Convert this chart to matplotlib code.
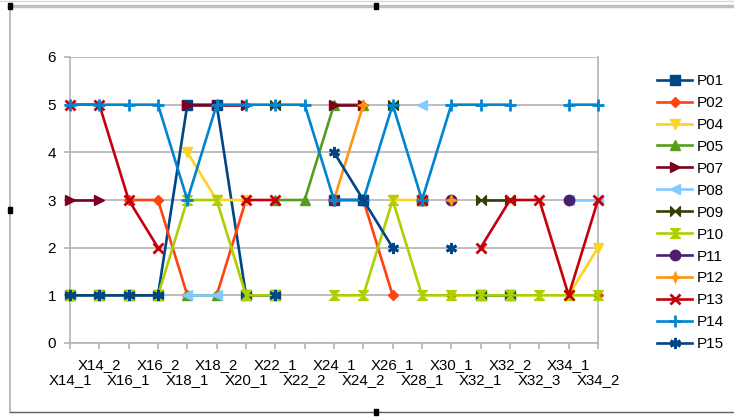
import numpy as np
import matplotlib
matplotlib.use("Agg")
import matplotlib.pyplot as plt
from matplotlib.path import Path
from matplotlib.lines import Line2D
from matplotlib.patches import Rectangle
import matplotlib.transforms as mtransforms

plt.rcParams['font.family'] = ['Liberation Sans', 'DejaVu Sans']

n = np.nan
categories = ["X14_1", "X14_2", "X16_1", "X16_2", "X18_1", "X18_2", "X20_1",
              "X22_1", "X22_2", "X24_1", "X24_2", "X26_1", "X28_1", "X30_1",
              "X32_1", "X32_2", "X32_3", "X34_1", "X34_2"]

P01 = [1, 1, 1, 1, 5, 5, 1, 1, n, 3, 3, n, 3, n, 1, 1, n, n, n]
P02 = [n, n, 3, 3, 1, 1, 3, n, n, n, 3, 1, n, 1, n, n, n, n, 1]
P04 = [n, n, n, n, 4, 3, 3, n, n, n, n, 3, 3, n, n, n, n, 1, 2]
P05 = [n, n, n, n, 1, 1, n, 3, 3, 5, 5, n, 3, n, n, n, n, n, n]
P07 = [3, 3, n, n, 5, 5, 5, n, n, 5, 5, n, n, n, n, n, n, n, n]
P08 = [n, n, n, n, 1, 1, n, n, n, n, n, n, 5, n, n, n, n, 3, 3]
P09 = [n, n, n, n, n, n, n, 5, n, n, n, 5, n, n, 3, 3, n, n, n]
P10 = [1, 1, 1, 1, 3, 3, 1, 1, n, 1, 1, 3, 1, 1, 1, 1, 1, 1, 1]
P11 = [n, n, n, n, n, n, n, n, n, 3, n, n, n, 3, n, n, n, 3, n]
P12 = [n, n, n, n, n, n, n, n, n, 3, 5, n, n, 3, n, n, n, n, n]
P13 = [5, 5, 3, 2, n, n, 3, 3, n, n, n, n, 3, n, 2, 3, 3, 1, 3]
P14 = [5, 5, 5, 5, 3, 5, 5, 5, 5, 3, 3, 5, 3, 5, 5, 5, n, 5, 5]
P15 = [1, 1, 1, 1, n, n, n, 1, n, 4, 3, 2, n, 2, n, n, n, n, n]

series_names = ["P01", "P02", "P04", "P05", "P07", "P08", "P09", "P10",
                "P11", "P12", "P13", "P14", "P15"]
series_values = [P01, P02, P04, P05, P07, P08, P09, P10, P11, P12, P13, P14, P15]
colors = ["#004586", "#ff420e", "#ffd320", "#579d1c", "#7e0021", "#83caff",
          "#314004", "#aecf00", "#4b1f6f", "#ff950e", "#c5000b", "#0084d1",
          "#004586"]

bowtie = Path([(-1, -1), (-1, 1), (0, 0), (1, 1), (1, -1), (0, 0), (-1, -1)],
              closed=True)
hourglass = Path([(-1, 1), (1, 1), (0, 0), (1, -1), (-1, -1), (0, 0), (-1, 1)],
                 closed=True)
star4 = Path([(0, 1), (0.25, 0.25), (1, 0), (0.25, -0.25), (0, -1),
              (-0.25, -0.25), (-1, 0), (-0.25, 0.25), (0, 1)], closed=True)
markers = ['s', 'D', 'v', '^', '>', '<', bowtie, hourglass, 'o', star4, 'x', '+',
           (6, 2, 0)]
msizes = [7, 5.5, 7.5, 7.5, 7.5, 7.5, 7, 7, 7.5, 8, 7.5, 9, 8]

W, H = 734, 418
fig = plt.figure(figsize=(W / 100, H / 100), dpi=100)
ax = fig.add_axes([70 / W, 1 - 343 / H, 528 / W, 286 / H])

x = np.arange(len(categories))
for name, vals, c, m, ms in zip(series_names, series_values, colors, markers, msizes):
    mew = 2.0 if m in ('x', '+', (6, 2, 0)) else 1.0
    ax.plot(x, vals, color=c, lw=1.9, marker=m, markersize=ms,
            markerfacecolor=c, markeredgecolor=c, markeredgewidth=mew,
            label=name, clip_on=False, zorder=3)

ax.set_xlim(0, len(categories) - 1)
ax.set_ylim(0, 6)
ax.set_yticks(range(0, 7))
ax.set_xticks(x)
ax.set_xticklabels([])
grid_c = "#b3b3b3"
ax.yaxis.grid(True, color=grid_c, lw=1.2, zorder=0)
ax.set_axisbelow(True)
for s in ['left', 'bottom', 'right']:
    ax.spines[s].set_color(grid_c)
    ax.spines[s].set_linewidth(1.2)
ax.spines['top'].set_visible(False)
ax.tick_params(axis='both', color=grid_c, length=4, width=1.2, direction='out')
ax.tick_params(axis='y', labelsize=11, pad=6)

trans = mtransforms.blended_transform_factory(ax.transData, ax.transAxes)
for i, lab in enumerate(categories):
    off = -26 if i % 2 == 1 else -41
    t = mtransforms.offset_copy(trans, fig=fig, y=off, units='dots')
    ax.text(i, 0, lab, transform=t, ha='center', va='baseline', fontsize=10.8)

leg = ax.legend(loc='upper left', bbox_to_anchor=(657 / W, 1 - 74 / H),
                bbox_transform=fig.transFigure, frameon=False, fontsize=11,
                handlelength=2.3, handletextpad=0.3, labelspacing=0.52,
                borderpad=0, borderaxespad=0, numpoints=1)

# frame of the embedded chart object
fig.add_artist(Line2D([9 / W, 1], [1 - 6 / H, 1 - 6 / H], transform=fig.transFigure,
                      color="#c0c0c0", lw=2.5))
fig.add_artist(Line2D([0, 1], [1 - 1 / H, 1 - 1 / H], transform=fig.transFigure,
                      color="#d8d8d8", lw=1))
fig.add_artist(Line2D([10 / W, 10 / W], [1 - 6 / H, 1 - 412 / H],
                      transform=fig.transFigure, color="#c0c0c0", lw=1.5))
fig.add_artist(Line2D([10 / W, 1], [1 - 412 / H, 1 - 412 / H],
                      transform=fig.transFigure, color="#606060", lw=1))
for hx, hy in [(10, 6), (376, 6), (376, 412), (10, 210)]:
    fig.add_artist(Rectangle(((hx - 2) / W, 1 - (hy + 3) / H), 4 / W, 6 / H,
                             transform=fig.transFigure, color="black", zorder=10))

fig.savefig("out.png", dpi=100)
